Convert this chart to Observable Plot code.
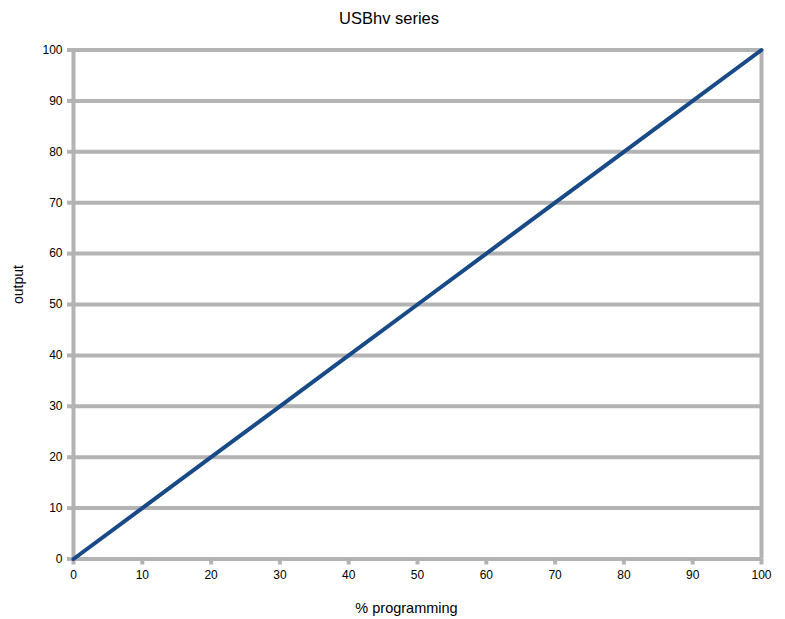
<!DOCTYPE html>
<html>
<head>
<meta charset="utf-8">
<script src="https://cdn.jsdelivr.net/npm/d3@7"></script>
<script src="https://cdn.jsdelivr.net/npm/@observablehq/plot@0.6"></script>
<style>
  html, body { margin: 0; padding: 0; background: #fff; }
  svg { font-family: "Liberation Sans", Arial, sans-serif; }
</style>
</head>
<body>
<div id="chart"></div>
<script>
const title = "USBhv series";
const xLabel = "% programming";
const yLabel = "output";
const xTicks = [0, 10, 20, 30, 40, 50, 60, 70, 80, 90, 100];
const yTicks = [0, 10, 20, 30, 40, 50, 60, 70, 80, 90, 100];
const programming = [0, 10, 20, 30, 40, 50, 60, 70, 80, 90, 100];
const output = [0, 10, 20, 30, 40, 50, 60, 70, 80, 90, 100];

const data = programming.map((p, i) => ({p, o: output[i]}));
const grid = "#b3b3b3";
const W = 785, H = 619;

const chart = Plot.plot({
  width: W,
  height: H,
  marginLeft: 73,
  marginRight: 24,
  marginTop: 49.5,
  marginBottom: 60.5,
  style: {fontFamily: "'Liberation Sans', Arial, sans-serif", fontSize: "12px", color: "#000", background: "#fff"},
  x: {domain: [0, 100], ticks: xTicks, label: null},
  y: {domain: [0, 100], ticks: yTicks, label: null},
  marks: [
    Plot.gridY(yTicks, {stroke: grid, strokeOpacity: 1, strokeWidth: 4}),
    Plot.ruleX([0, 100], {stroke: grid, strokeWidth: 4}),
    Plot.axisY(yTicks, {tickSize: 6, tickPadding: 5, stroke: grid, strokeWidth: 4, fill: "#000", fontSize: 12, label: null}),
    Plot.axisX(xTicks, {tickSize: 6, tickPadding: 5, stroke: grid, strokeWidth: 4, fill: "#000", fontSize: 12, label: null}),
    Plot.line(data, {x: "p", y: "o", stroke: "#174a87", strokeWidth: 4}),
    Plot.text([title], {frameAnchor: "top", lineAnchor: "middle", dy: -31.5, dx: -28.5, fontSize: 16.5, fill: "#000"}),
    Plot.text([xLabel], {frameAnchor: "bottom", lineAnchor: "middle", dy: 49, dx: -11, fontSize: 14.5, fill: "#000"}),
    Plot.text([yLabel], {frameAnchor: "left", dx: -55, dy: -0.5, rotate: -90, fontSize: 14, fill: "#000"})
  ]
});
document.getElementById("chart").appendChild(chart);
</script>
</body>
</html>
